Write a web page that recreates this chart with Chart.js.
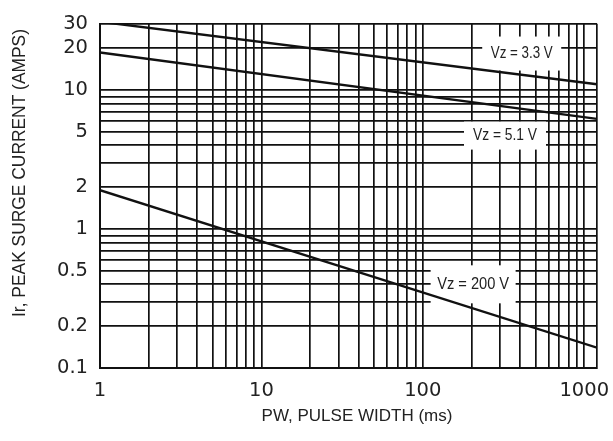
<!DOCTYPE html>
<html>
<head>
<meta charset="utf-8">
<script src="https://cdn.jsdelivr.net/npm/chart.js@4.4.1/dist/chart.umd.min.js"></script>
<style>
  body{margin:0;background:#fff;}
</style>
</head>
<body>
<canvas id="surgeChart" width="613" height="441"></canvas>
<script>
// pulse width (ms) at the two ends of each straight log-log line
const pulseWidth = [1, 1200];
const vz33 = [31, 11];
const vz51 = [18.6, 6.2];
const vz200 = [1.9, 0.14];
const seriesNames = ['Vz = 3.3 V', 'Vz = 5.1 V', 'Vz = 200 V'];

// grid and tick labels
const xGrid = [1,2,3,4,5,6,7,8,9,10,20,30,40,50,60,70,80,90,100,200,300,400,500,600,700,800,900,1000,1200];
const xLabels = [1, 10, 100, 1000];
const yGrid = [0.1,0.2,0.3,0.4,0.5,0.6,0.7,0.8,0.9,1,2,3,4,5,6,7,8,9,10,20,30];
const yLabels = [0.1, 0.2, 0.5, 1, 2, 5, 10, 20, 30];

// where the series names sit (in data units) and their white boxes
const noteX = [410, 323, 205];
const noteY = [18.3, 4.7, 0.40];
const noteBox = [[79, 34], [82, 28], [85, 38]];
const noteWidth = [62, 64, 72];

function lineData(ys){
    return pulseWidth.map((x, i) => ({x: x, y: ys[i]}));
}

let noteLabels = {
    id: 'noteLabels',
    beforeDatasetsDraw(chart){
        let ctx = chart.ctx;
        let xs = chart.scales.x;
        let ys = chart.scales.y;
        ctx.save();
        ctx.font = '16px "Liberation Sans Narrow", "Liberation Sans", Arial, sans-serif';
        ctx.textAlign = 'center';
        ctx.textBaseline = 'middle';
        for(let i = 0; i < seriesNames.length; i++){
            let px = xs.getPixelForValue(noteX[i]);
            let py = ys.getPixelForValue(noteY[i]);
            ctx.fillStyle = '#fff';
            ctx.fillRect(px - noteBox[i][0] / 2, py - noteBox[i][1] / 2, noteBox[i][0], noteBox[i][1]);
            ctx.fillStyle = '#222';
            ctx.fillText(seriesNames[i], px, py, noteWidth[i]);
        }
        ctx.restore();
    }
};

// axis titles, placed a little off centre like the original sheet
let axisTitles = {
    id: 'axisTitles',
    afterDraw(chart){
        let ctx = chart.ctx;
        ctx.save();
        ctx.fillStyle = '#222';
        ctx.textAlign = 'center';
        ctx.textBaseline = 'middle';
        ctx.font = '17px "Liberation Sans", Arial, sans-serif';
        ctx.fillText('PW, PULSE WIDTH (ms)', 357, 416, 192);
        ctx.translate(20, 173);
        ctx.rotate(-Math.PI / 2);
        ctx.font = '17.5px "Liberation Sans", Arial, sans-serif';
        ctx.fillText('Ir, PEAK SURGE CURRENT (AMPS)', 0, 0, 288);
        ctx.restore();
    }
};

let lineStyle = {
    borderColor: '#111',
    borderWidth: 2.4,
    pointRadius: 0,
    fill: false,
    tension: 0
};

let config = {
    type: 'line',
    data: {
        datasets: [
            Object.assign({label: seriesNames[0], data: lineData(vz33)}, lineStyle),
            Object.assign({label: seriesNames[1], data: lineData(vz51)}, lineStyle),
            Object.assign({label: seriesNames[2], data: lineData(vz200)}, lineStyle)
        ]
    },
    options: {
        responsive: false,
        animation: false,
        layout: {padding: {left: 0, right: 16, top: 18, bottom: 0}},
        plugins: {
            legend: {display: false},
            tooltip: {enabled: false}
        },
        scales: {
            x: {
                type: 'logarithmic',
                min: 1,
                max: 1200,
                afterBuildTicks: (scale) => { scale.ticks = xGrid.map(v => ({value: v})); },
                afterFit: (scale) => { scale.height = 73; },
                grid: {color: '#111', lineWidth: 1.7, drawTicks: false},
                border: {color: '#111', width: 2},
                ticks: {
                    autoSkip: false,
                    maxRotation: 0,
                    padding: 11,
                    color: '#222',
                    font: {family: '"DejaVu Sans", Verdana, sans-serif', size: 19.5},
                    callback: (v) => xLabels.includes(v) ? String(v) : ''
                }
            },
            y: {
                type: 'logarithmic',
                min: 0.1,
                max: 30,
                afterBuildTicks: (scale) => { scale.ticks = yGrid.map(v => ({value: v})); },
                afterFit: (scale) => { scale.width = 100; },
                grid: {color: '#111', lineWidth: 1.7, drawTicks: false},
                border: {color: '#111', width: 2},
                ticks: {
                    autoSkip: false,
                    padding: 12,
                    color: '#222',
                    font: {family: '"DejaVu Sans", Verdana, sans-serif', size: 19.5},
                    callback: (v) => yLabels.includes(v) ? String(v) : ''
                }
            }
        }
    },
    plugins: [noteLabels, axisTitles]
};

let chart = new Chart(document.getElementById('surgeChart').getContext('2d'), config);
</script>
</body>
</html>
